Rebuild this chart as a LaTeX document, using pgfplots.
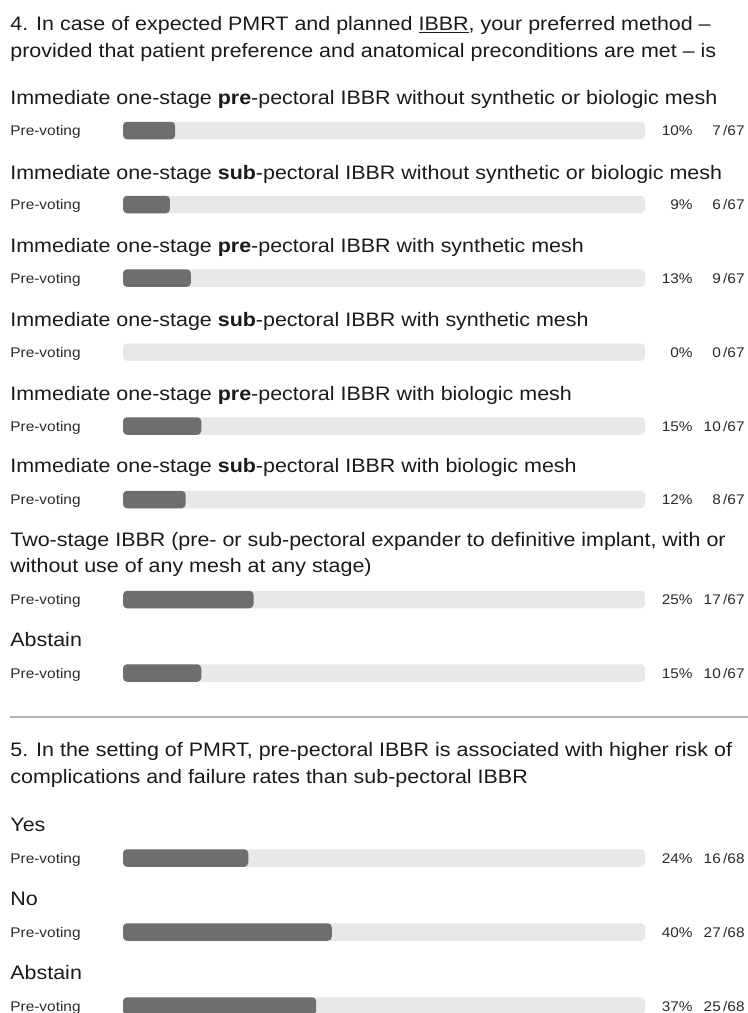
\documentclass[border=0pt]{standalone}
\usepackage{pgfplots}
\pgfplotsset{compat=1.18}
\usepackage{pgfplotstable}
\usepackage{fontspec}
\setmainfont{Liberation Sans}[FakeStretch=1.1]

\definecolor{barfill}{HTML}{6E6E6E}
\definecolor{track}{HTML}{E8E8E8}
\definecolor{txt}{HTML}{1A1A1A}
\definecolor{small}{HTML}{2A2A2A}
\definecolor{rule}{HTML}{B4B4B4}

% row position (px from top), share in percent, full track
\pgfplotstableread{
pos    pct full
130.5  10  100
204.5   9  100
278    13  100
352     0  100
426    15  100
499.5  12  100
599.5  25  100
673    15  100
858    24  100
932    40  100
1006   37  100
}\votes

\begin{document}
\begin{tikzpicture}[x=0.5pt,y=-0.5pt,
  big/.style={anchor=base west,inner sep=0pt,text=txt,font=\fontsize{9.75pt}{11pt}\selectfont},
  sm/.style={inner sep=0pt,text=small,font=\fontsize{7pt}{8pt}\selectfont}]
\useasboundingbox (0,0) rectangle (748,1013);

\begin{axis}[at={(61.5pt,0pt)}, anchor=north west,
  scale only axis, width=261pt, height=506.5pt,
  xmin=0, xmax=100, ymin=0, ymax=1013, y dir=reverse,
  hide axis, clip=false, xbar, bar width=17.5]
\addplot[bar shift=0pt, fill=track, draw=none, rounded corners=2pt] table[x=full,y=pos] {\votes};
% empty rows (0 %) draw no bar
\addplot[bar shift=0pt, fill=barfill, draw=none, rounded corners=2pt,
  restrict x to domain=0.5:100] table[x=pct,y=pos] {\votes};
\end{axis}

% question 4
\node[big] at (10,30) {4. In case of expected PMRT and planned \underline{IBBR}, your preferred method --};
\node[big] at (10,57) {provided that patient preference and anatomical preconditions are met -- is};
\node[big] at (10,104) {Immediate one-stage \textbf{pre}-pectoral IBBR without synthetic or biologic mesh};
\node[big] at (10,179) {Immediate one-stage \textbf{sub}-pectoral IBBR without synthetic or biologic mesh};
\node[big] at (10,252) {Immediate one-stage \textbf{pre}-pectoral IBBR with synthetic mesh};
\node[big] at (10,326) {Immediate one-stage \textbf{sub}-pectoral IBBR with synthetic mesh};
\node[big] at (10,400) {Immediate one-stage \textbf{pre}-pectoral IBBR with biologic mesh};
\node[big] at (10,472) {Immediate one-stage \textbf{sub}-pectoral IBBR with biologic mesh};
\node[big] at (10,546) {Two-stage IBBR (pre- or sub-pectoral expander to definitive implant, with or};
\node[big] at (10,572) {without use of any mesh at any stage)};
\node[big] at (10,646) {Abstain};

\draw[rule, line width=1pt] (10,717) -- (748,717);

% question 5
\node[big] at (10,756) {5. In the setting of PMRT, pre-pectoral IBBR is associated with higher risk of};
\node[big] at (10,783) {complications and failure rates than sub-pectoral IBBR};
\node[big] at (10,831) {Yes};
\node[big] at (10,905) {No};
\node[big] at (10,979) {Abstain};

% row labels and counts
\foreach \y/\p/\n/\t in {130.5/10/7/67, 204.5/9/6/67, 278/13/9/67, 352/0/0/67,
  426/15/10/67, 499.5/12/8/67, 599.5/25/17/67, 673/15/10/67,
  858/24/16/68, 932/40/27/68, 1006/37/25/68}{
  \node[sm,anchor=base west] at (10,\y+5) {Pre-voting};
  \node[sm,anchor=base east] at (693,\y+5) {\p\%};
  \node[sm,anchor=base east] at (745,\y+5) {\n\,/\t};
}
\end{tikzpicture}
\end{document}
